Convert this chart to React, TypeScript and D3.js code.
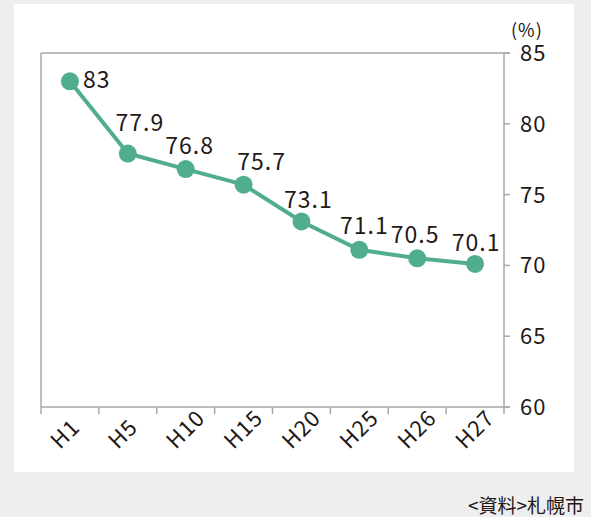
import React from "react";
import * as d3 from "d3";

const categories = ["H1", "H5", "H10", "H15", "H20", "H25", "H26", "H27"];
const values = [83, 77.9, 76.8, 75.7, 73.1, 71.1, 70.5, 70.1];
const yTicks = [60, 65, 70, 75, 80, 85];
const unitLabel = "(%)";
const sourceLabel = "<資料>札幌市";

// label placement offsets relative to each point (dx, baseline dy, anchor)
const labelPlacement: [number, number, string][] = [
  [13, 7, "start"],
  [12, -23, "middle"],
  [4, -15, "middle"],
  [18, -15, "middle"],
  [7, -14, "middle"],
  [5, -16, "middle"],
  [-2, -15, "middle"],
  [1, -13, "middle"],
];

const W = 591;
const H = 517;
const FONT = "'Noto Sans CJK JP', 'Noto Sans', sans-serif";
const GREEN = "#50ae8c";
const GRID = "#a8a8a8";
const TEXT = "#231815";

export default function App() {
  const left = 41, right = 504, top = 53, bottom = 407;
  const x = d3.scaleBand<string>().domain(categories).range([left, right]);
  const y = d3.scaleLinear().domain([60, 85]).range([bottom, top]);
  const cx = (c: string) => (x(c) as number) + x.bandwidth() / 2;
  const line = d3
    .line<number>()
    .x((_, i) => cx(categories[i]))
    .y((d) => y(d));
  const boundaries = categories.map((c) => x(c) as number).concat([right]);

  return (
    <svg
      width={W}
      height={H}
      style={{ position: "absolute", left: 0, top: 0, display: "block" }}
      fontFamily={FONT}
    >
      <rect x={0} y={0} width={W} height={H} fill="#eeeeee" />
      <rect x={14} y={4} width={560} height={468} fill="#ffffff" />

      {/* frame */}
      <line x1={left} x2={right + 6} y1={top} y2={top} stroke={GRID} strokeWidth={1.5} />
      <line x1={left} x2={left} y1={top} y2={bottom} stroke={GRID} strokeWidth={1.5} />
      <line x1={right} x2={right} y1={top} y2={bottom} stroke={GRID} strokeWidth={1.5} />
      <line x1={left} x2={right + 6} y1={bottom} y2={bottom} stroke={GRID} strokeWidth={1.5} />

      {/* y ticks */}
      {yTicks.map((t) => (
        <g key={t}>
          <line x1={right} x2={right + 6} y1={y(t)} y2={y(t)} stroke={GRID} strokeWidth={1.5} />
          <text x={right + 16} y={y(t)} dy="0.36em" fontSize={22} letterSpacing={1} fill={TEXT}>
            {t}
          </text>
        </g>
      ))}
      <text x={511} y={37} fontSize={18} letterSpacing={1} fill={TEXT}>
        {unitLabel}
      </text>

      {/* x ticks */}
      {boundaries.map((b, i) => (
        <line key={i} x1={b} x2={b} y1={bottom} y2={bottom + 7} stroke={GRID} strokeWidth={1.5} />
      ))}
      {categories.map((c) => (
        <text
          key={c}
          transform={`translate(${cx(c) - 10},${bottom + 43}) rotate(-45)`}
          textAnchor="start"
          fontSize={22}
          letterSpacing={1}
          fill={TEXT}
        >
          {c}
        </text>
      ))}

      {/* series */}
      <path d={line(values) as string} fill="none" stroke={GREEN} strokeWidth={4} />
      {values.map((v, i) => (
        <circle key={i} cx={cx(categories[i])} cy={y(v)} r={9} fill={GREEN} />
      ))}
      {values.map((v, i) => {
        const [dx, dy, anchor] = labelPlacement[i];
        return (
          <text
            key={i}
            x={cx(categories[i]) + dx}
            y={y(v) + dy}
            textAnchor={anchor}
            fontSize={23}
            letterSpacing={1}
            fill={TEXT}
          >
            {v}
          </text>
        );
      })}

      <text x={584} y={513} textAnchor="end" fontSize={19} fill={TEXT}>
        {sourceLabel}
      </text>
    </svg>
  );
}
